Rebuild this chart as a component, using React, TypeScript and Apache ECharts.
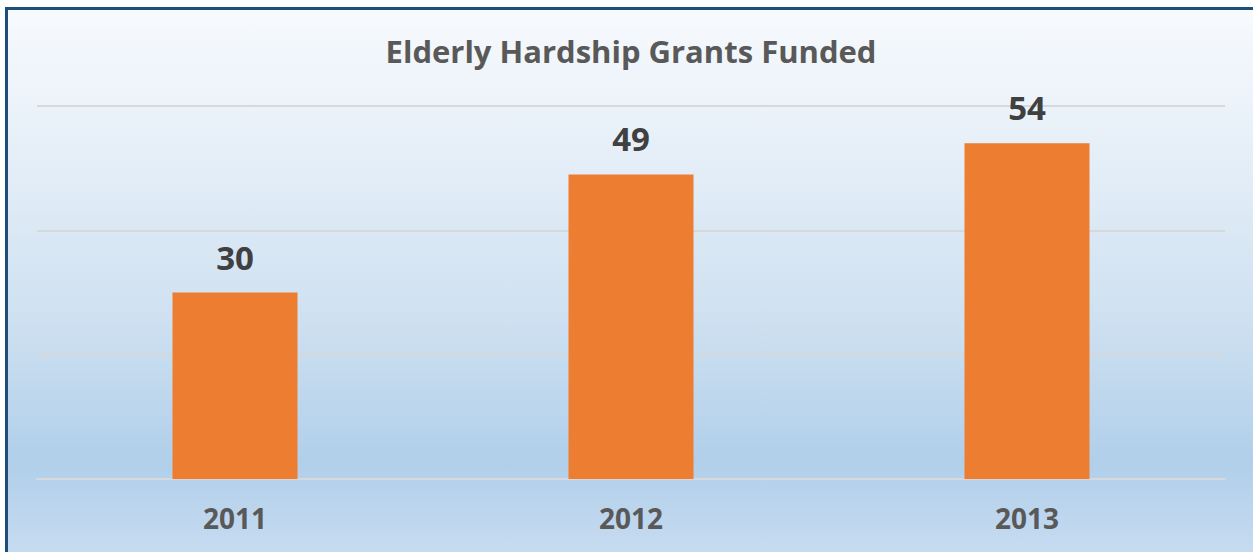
import React, { useEffect, useRef } from "react";
import * as echarts from "echarts";

const categories = ["2011", "2012", "2013"];
const grantsFunded = [30, 49, 54];
const chartTitle = "Elderly Hardship Grants Funded";

export default function App() {
  const ref = useRef<HTMLDivElement>(null);
  useEffect(() => {
    if (!ref.current) return;
    const chart = echarts.init(ref.current, null, { renderer: "svg" });
    chart.setOption({
      animation: false,
      backgroundColor: "transparent",
      title: {
        text: chartTitle,
        left: 626,
        textAlign: "center",
        top: 30,
        textStyle: {
          fontFamily: "Open Sans",
          fontWeight: "bold",
          fontSize: 31,
          color: "#595959",
        },
      },
      grid: { left: 37, right: 28, top: 106, bottom: 73, containLabel: false },
      xAxis: {
        type: "category",
        data: categories,
        axisLine: { show: true, lineStyle: { color: "#d6d8da", width: 2 } },
        axisTick: { show: false },
        axisLabel: {
          margin: 25,
          fontFamily: "Open Sans",
          fontWeight: "bold",
          fontSize: 28,
          color: "#595959",
        },
      },
      yAxis: {
        type: "value",
        min: 0,
        max: 60,
        interval: 20,
        axisLabel: { show: false },
        axisLine: { show: false },
        axisTick: { show: false },
        splitLine: { show: true, lineStyle: { color: "#d6d8da", width: 2 } },
      },
      series: [
        {
          type: "bar",
          data: grantsFunded,
          barWidth: 125,
          itemStyle: { color: "#ed7d31" },
          label: {
            show: true,
            position: "top",
            distance: 19,
            fontFamily: "Open Sans",
            fontWeight: "bold",
            fontSize: 33,
            color: "#404040",
          },
        },
      ],
    });
    return () => chart.dispose();
  }, []);

  return (
    <div
      style={{
        position: "fixed",
        left: 0,
        top: 0,
        width: 1253,
        height: 552,
        overflow: "hidden",
        background: "#ffffff",
      }}
    >
      <div
        style={{
          position: "absolute",
          left: 5,
          top: 7,
          width: 1265,
          height: 560,
          borderLeft: "3px solid #1f4e79",
          borderTop: "3px solid #1f4e79",
          boxSizing: "border-box",
          background:
            "linear-gradient(to bottom, #f7fafd 0%, #e6eff8 25%, #cfe1f1 55%, #b1cfea 81%, #c9ddf1 100%)",
        }}
      />
      <div
        ref={ref}
        style={{ position: "absolute", left: 0, top: 0, width: 1253, height: 552 }}
      />
    </div>
  );
}
